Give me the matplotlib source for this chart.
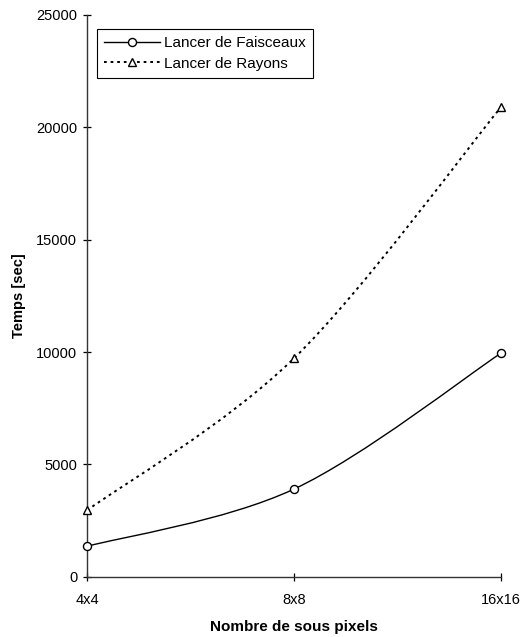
import matplotlib
matplotlib.use('Agg')
import matplotlib.pyplot as plt
import numpy as np
from matplotlib.path import Path
from matplotlib.patches import PathPatch
from matplotlib.lines import Line2D

plt.rcParams['font.family'] = ['Liberation Sans', 'DejaVu Sans']

categories = ['4x4', '8x8', '16x16']
faisceaux = [1350, 3900, 9950]
rayons = [2950, 9720, 20900]
yticks = [0, 5000, 10000, 15000, 20000, 25000]


def smooth_path(xs, ys):
    # excel-like smoothed line: bezier segments through the points
    pts = np.column_stack([xs, ys]).astype(float)
    ext = np.vstack([pts[0], pts, pts[-1]])
    verts = [pts[0]]
    codes = [Path.MOVETO]
    for i in range(len(pts) - 1):
        p0, p1, p2, p3 = ext[i], ext[i + 1], ext[i + 2], ext[i + 3]
        c1 = p1 + (p2 - p0) / 6.0
        c2 = p2 - (p3 - p1) / 6.0
        verts += [c1, c2, p2]
        codes += [Path.CURVE4] * 3
    return Path(verts, codes)


fig = plt.figure(figsize=(5.26, 6.37), dpi=100)
ax = fig.add_axes([87 / 526, 1 - 576.7 / 637, (501 - 87) / 526, (576.7 - 15) / 637])

x = np.arange(len(categories))
dots = (0, (1.4, 2.0))

ax.add_patch(PathPatch(smooth_path(x, faisceaux), fill=False, edgecolor='black', lw=1.0))
ax.add_patch(PathPatch(smooth_path(x, rayons), fill=False, edgecolor='black', lw=1.4, linestyle=dots))
ax.plot(x, faisceaux, linestyle='none', marker='o', ms=5.8, mfc='white', mec='black', mew=1.0, clip_on=False, zorder=5)
ax.plot(x, rayons, linestyle='none', marker='^', ms=6.3, mfc='white', mec='black', mew=1.0, clip_on=False, zorder=5)

ax.set_xlim(0, 2)
ax.set_ylim(0, 25000)
ax.set_xticks(x)
ax.set_xticklabels(categories)
ax.set_yticks(yticks)
ax.tick_params(axis='both', direction='inout', length=6, width=0.9, labelsize=10.5, colors='black')
ax.tick_params(axis='y', pad=4)
ax.tick_params(axis='x', pad=9)
for s in ['top', 'right']:
    ax.spines[s].set_visible(False)
for s in ['left', 'bottom']:
    ax.spines[s].set_linewidth(1.0)
    ax.spines[s].set_color('#333333')

ax.set_xlabel('Nombre de sous pixels', fontsize=11, fontweight='bold', labelpad=9)
ax.set_ylabel('Temps [sec]', fontsize=10.5, fontweight='bold', labelpad=7)

handles = [
    Line2D([], [], color='black', lw=1.0, marker='o', ms=5.8, mfc='white', mec='black'),
    Line2D([], [], color='black', lw=1.4, linestyle=dots, marker='^', ms=5.8, mfc='white', mec='black'),
]
leg = fig.legend(handles, ['Lancer de Faisceaux', 'Lancer de Rayons'],
                 loc='upper left', bbox_to_anchor=(97 / 526, 1 - 29 / 637),
                 fontsize=11, numpoints=1, handlelength=3.7, handletextpad=0.25,
                 borderpad=0.45, labelspacing=0.45, fancybox=False, framealpha=1,
                 borderaxespad=0)
leg.get_frame().set_edgecolor('black')
leg.get_frame().set_linewidth(0.8)

fig.savefig('out.png', dpi=100)
